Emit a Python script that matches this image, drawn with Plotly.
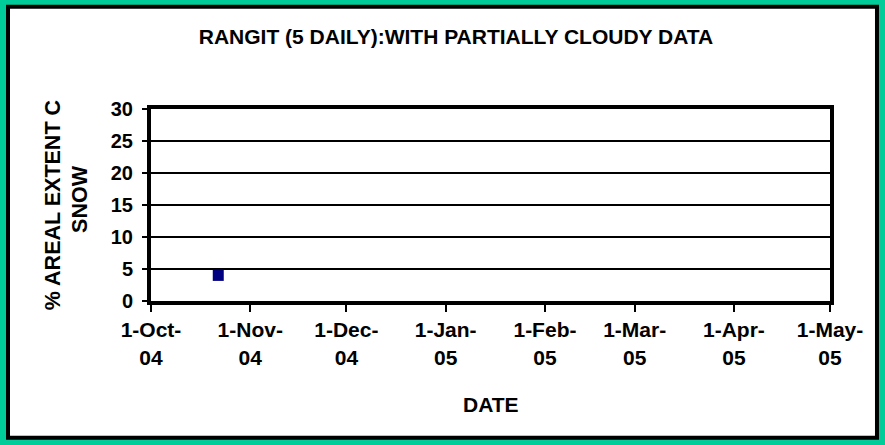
import plotly.graph_objects as go

# 5-daily snow cover observations (partially cloudy data)
obs_dates = ["2004-10-22"]
snow_pct = [4]

tick_dates = ["2004-10-01", "2004-11-01", "2004-12-01", "2005-01-01",
              "2005-02-01", "2005-03-01", "2005-04-01", "2005-05-01"]
tick_month = ["1-Oct-", "1-Nov-", "1-Dec-", "1-Jan-",
              "1-Feb-", "1-Mar-", "1-Apr-", "1-May-"]
tick_year = ["04", "04", "04", "05", "05", "05", "05", "05"]

x_range = ["2004-10-01", "2005-05-01"]
y_ticks = [0, 5, 10, 15, 20, 25, 30]

FONT = "Liberation Sans, Arial, sans-serif"
bold = lambda s: dict(family=FONT, size=s, color="black", weight="bold")

fig = go.Figure()
fig.add_trace(go.Scatter(
    x=obs_dates, y=snow_pct, mode="markers",
    marker=dict(symbol="square", size=11, color="#000080"),
    showlegend=False,
))

fig.update_layout(
    width=885, height=445,
    margin=dict(l=151, r=55, t=109, b=144),
    paper_bgcolor="#00CC99",
    plot_bgcolor="white",
    title=dict(text="RANGIT (5 DAILY):WITH PARTIALLY CLOUDY DATA",
               font=bold(21), x=0.5153, xanchor="center",
               y=1 - 36.5 / 445, yanchor="middle"),
    xaxis=dict(type="date", range=x_range,
               tickvals=tick_dates,
               ticktext=[m + "<br>" + y for m, y in zip(tick_month, tick_year)],
               tickfont=bold(21), ticks="outside", ticklen=7, tickwidth=2,
               tickcolor="black", showgrid=False, zeroline=False,
               showline=True, linewidth=4, linecolor="black", mirror=True),
    yaxis=dict(range=[0, 30], tickvals=y_ticks, tickfont=bold(20),
               ticks="outside", ticklen=5, tickwidth=2, tickcolor="black",
               showgrid=True, gridcolor="black", gridwidth=1.5,
               zeroline=False, showline=True, linewidth=4,
               linecolor="black", mirror=True, ticklabelstandoff=5),
    shapes=[dict(type="rect", xref="paper", yref="paper",
                 x0=-0.2106, x1=1.0692, y0=-0.7128, y1=1.5326,
                 line=dict(color="black", width=4), fillcolor="white",
                 layer="below")],
    annotations=[
        dict(text="% AREAL EXTENT C", textangle=-90, showarrow=False,
             xref="paper", yref="paper", x=-0.1443, y=0.499,
             xanchor="center", yanchor="middle", font=bold(21.5)),
        dict(text="SNOW", textangle=-90, showarrow=False,
             xref="paper", yref="paper", x=-0.1035, y=0.53,
             xanchor="center", yanchor="middle", font=bold(21.5)),
        dict(text="DATE", showarrow=False,
             xref="paper", yref="paper", x=0.5007, y=-0.537,
             xanchor="center", yanchor="middle", font=bold(21)),
    ],
)

fig.write_html("out.html", config={"displayModeBar": False},
               post_script="document.body.style.margin='0';")
